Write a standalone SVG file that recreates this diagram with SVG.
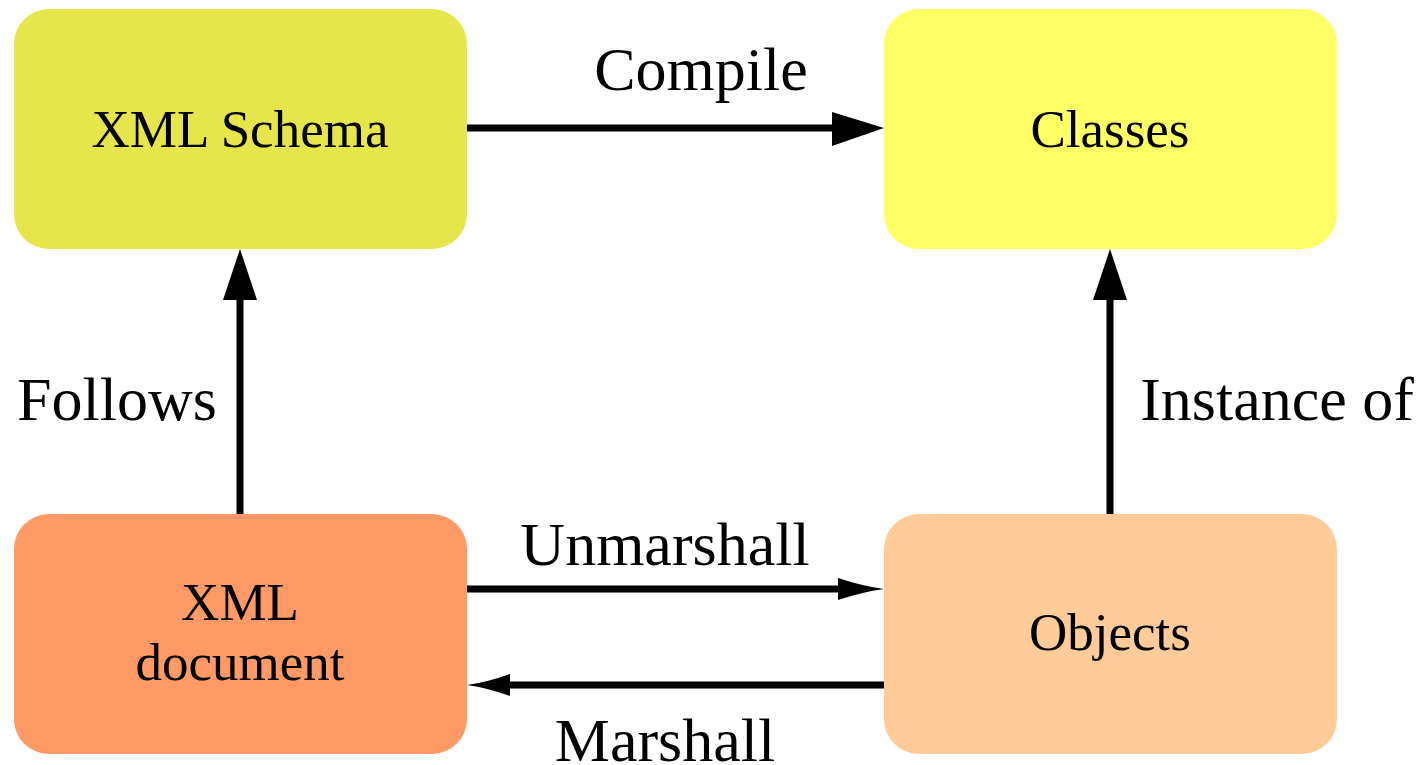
<svg xmlns="http://www.w3.org/2000/svg" width="1425" height="765" viewBox="0 0 1425 765">
  <style>
    .box { stroke: none; }
    .node-label { font-family: "Liberation Serif", "Times New Roman", serif; font-size: 53px; fill: #000; text-anchor: middle; }
    .edge-label { font-family: "Liberation Serif", "Times New Roman", serif; font-size: 62px; fill: #000; text-anchor: middle; }
    .edge { stroke: #000; stroke-width: 7; fill: none; }
    .head { fill: #000; stroke: none; }
  </style>
  <rect width="1425" height="765" fill="#fff"/>

  <!-- nodes -->
  <g id="node-schema">
    <rect class="box" x="14" y="9" width="453" height="240" rx="35" ry="35" fill="#e6e64c"/>
    <text class="node-label" x="240" y="147">XML Schema</text>
  </g>
  <g id="node-classes">
    <rect class="box" x="884" y="9" width="453" height="240" rx="35" ry="35" fill="#ffff66"/>
    <text class="node-label" x="1110" y="147">Classes</text>
  </g>
  <g id="node-document">
    <rect class="box" x="14" y="514" width="453" height="240" rx="35" ry="35" fill="#ff9966"/>
    <text class="node-label" x="240" y="620">XML</text>
    <text class="node-label" x="240" y="680">document</text>
  </g>
  <g id="node-objects">
    <rect class="box" x="884" y="514" width="453" height="240" rx="35" ry="35" fill="#ffcc99"/>
    <text class="node-label" x="1110" y="650">Objects</text>
  </g>

  <!-- connectors -->
  <g id="connectors">
    <!-- Compile -->
    <line class="edge" x1="467" y1="128" x2="834" y2="128"/>
    <polygon class="head" points="832,112 884,128 832,146"/>
    <text class="edge-label" x="701" y="90">Compile</text>

    <!-- Follows -->
    <line class="edge" x1="240" y1="514" x2="240" y2="298"/>
    <polygon class="head" points="223,300 240,249 257,300"/>
    <text class="edge-label" x="117" y="420">Follows</text>

    <!-- Instance of -->
    <line class="edge" x1="1110" y1="514" x2="1110" y2="298"/>
    <polygon class="head" points="1093,300 1110,249 1127,300"/>
    <text class="edge-label" x="1277" y="420">Instance of</text>

    <!-- Unmarshall -->
    <line class="edge" x1="467" y1="589" x2="840" y2="589"/>
    <path class="head" d="M838,578 Q862,586 884,589 Q862,592 838,600 Z"/>
    <text class="edge-label" x="665" y="565">Unmarshall</text>

    <!-- Marshall -->
    <line class="edge" x1="884" y1="685" x2="508" y2="685"/>
    <path class="head" d="M510,674 Q488,682 467,685 Q488,688 510,696 Z"/>
    <text class="edge-label" x="665" y="761">Marshall</text>
  </g>
</svg>
